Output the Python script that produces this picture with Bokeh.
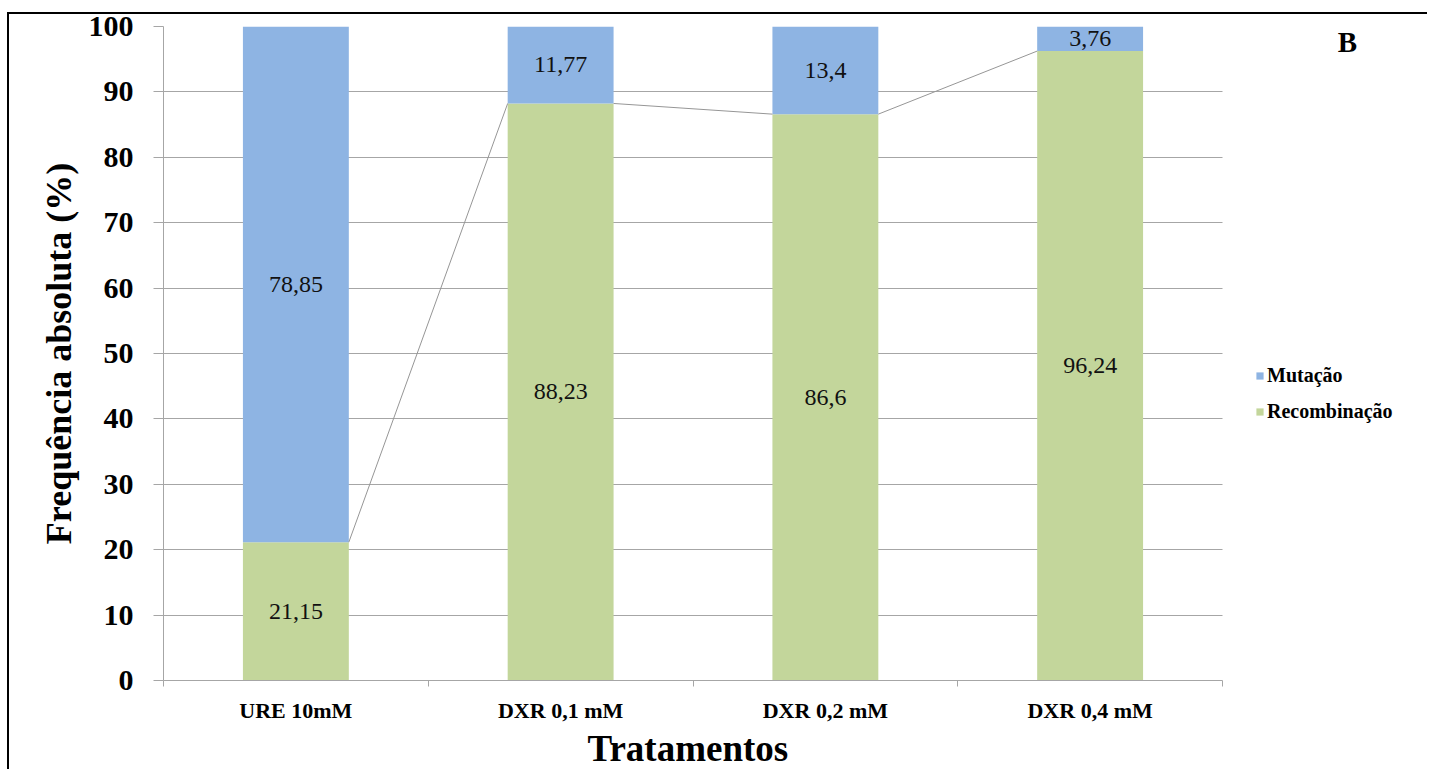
from bokeh.plotting import figure
from bokeh.models import (Range1d, FixedTicker, ColumnDataSource, LabelSet,
                          Legend, LegendItem, Label, Title)
from bokeh.embed import file_html
from bokeh.resources import INLINE

# Treatments and the share (%) of each event type
tratamentos = ["URE 10mM", "DXR 0,1 mM", "DXR 0,2 mM", "DXR 0,4 mM"]
recombinacao = [21.15, 88.23, 86.6, 96.24]
mutacao = [78.85, 11.77, 13.4, 3.76]
y_ticks = [0, 10, 20, 30, 40, 50, 60, 70, 80, 90, 100]

BLUE = "#8EB4E3"
GREEN = "#C3D69B"
GRID = "#A6A6A6"
SERIF = "Liberation Serif"
BAR_W = 0.4

# The frame runs to the right edge so the legend and panel letter can sit
# beside the bars; the axis and grid are bounded to the category span.
FRAME_W = 1266
PLOT_W = 1059
N = len(tratamentos)
X_END = N * FRAME_W / PLOT_W


def fmt(v):
    return f"{v:g}".replace(".", ",")


xs = [i + 0.5 for i in range(N)]
src = ColumnDataSource(dict(
    x=xs,
    rec=recombinacao,
    mut=mutacao,
    rec_mid=[r / 2 for r in recombinacao],
    mut_mid=[r + m / 2 for r, m in zip(recombinacao, mutacao)],
    rec_txt=[fmt(v) for v in recombinacao],
    mut_txt=[fmt(v) for v in mutacao],
))

p = figure(width=1420, height=757, output_backend="svg", toolbar_location=None,
           x_range=Range1d(0, X_END), y_range=Range1d(0, 100),
           min_border_left=154, min_border_right=0, min_border_top=12,
           min_border_bottom=91)
p.margin = (12, 0, 0, 7)
p.styles = {"border-left": "2px solid black", "border-top": "2px solid black"}
p.outline_line_color = None
p.background_fill_color = "white"
p.border_fill_color = "white"

rs = p.vbar_stack(["rec", "mut"], x="x", width=BAR_W, color=[GREEN, BLUE],
                  source=src, line_color=None)

# Series line joining the tops of the Recombinação segments
seg = ColumnDataSource(dict(
    x0=[x + BAR_W / 2 for x in xs[:-1]],
    y0=recombinacao[:-1],
    x1=[x - BAR_W / 2 for x in xs[1:]],
    y1=recombinacao[1:],
))
p.segment(x0="x0", y0="y0", x1="x1", y1="y1", source=seg,
          line_color="#969696", line_width=1)

for ycol, tcol in (("rec_mid", "rec_txt"), ("mut_mid", "mut_txt")):
    p.add_layout(LabelSet(x="x", y=ycol, text=tcol, source=src,
                          text_align="center", text_baseline="middle",
                          text_font=SERIF, text_font_size="24px",
                          text_color="#111111"))

# Axes
p.xgrid.visible = False
p.ygrid.grid_line_color = GRID
p.ygrid.ticker = FixedTicker(ticks=y_ticks)
p.ygrid.cross_bounds = (0, N)

p.yaxis.ticker = FixedTicker(ticks=y_ticks)
p.yaxis.axis_line_color = GRID
p.yaxis.major_tick_line_color = GRID
p.yaxis.major_tick_out = 10
p.yaxis.major_tick_in = 0
p.yaxis.minor_tick_line_color = None
p.yaxis.major_label_text_font = SERIF
p.yaxis.major_label_text_font_style = "bold"
p.yaxis.major_label_text_font_size = "30px"
p.yaxis.major_label_text_color = "black"
p.yaxis.major_label_standoff = 20
p.yaxis.axis_label = "Frequência absoluta (%)"
p.yaxis.axis_label_text_font = SERIF
p.yaxis.axis_label_text_font_style = "bold"
p.yaxis.axis_label_text_font_size = "36px"
p.yaxis.axis_label_text_color = "black"
p.yaxis.axis_label_standoff = 7

p.xaxis.bounds = (0, N)
p.xaxis.ticker = FixedTicker(ticks=xs, minor_ticks=list(range(N + 1)))
p.xaxis.major_label_overrides = {x: t for x, t in zip(xs, tratamentos)}
p.xaxis.axis_line_color = GRID
p.xaxis.major_tick_line_color = None
p.xaxis.major_tick_out = 0
p.xaxis.major_tick_in = 0
p.xaxis.minor_tick_line_color = GRID
p.xaxis.minor_tick_out = 6
p.xaxis.minor_tick_in = 0
p.xaxis.major_label_text_font = SERIF
p.xaxis.major_label_text_font_style = "bold"
p.xaxis.major_label_text_font_size = "22px"
p.xaxis.major_label_text_color = "black"
p.xaxis.major_label_standoff = 11

# Axis title centred under the category span rather than the whole frame
p.add_layout(Title(text="Tratamentos", align="left", offset=424,
                   text_font=SERIF, text_font_style="bold",
                   text_font_size="37px", text_color="black",
                   standoff=0), "below")

legend = Legend(items=[LegendItem(label="Mutação", renderers=[rs[1]]),
                       LegendItem(label="Recombinação", renderers=[rs[0]])],
                location=(1092, 257), orientation="vertical",
                glyph_width=9, glyph_height=9, label_standoff=3,
                label_height=20, spacing=13, padding=0, margin=0,
                border_line_color=None, background_fill_alpha=0,
                label_text_font=SERIF, label_text_font_style="bold",
                label_text_font_size="20px", label_text_color="black")
p.add_layout(legend)

p.add_layout(Label(x=4.472, y=97.6, text="B", text_font=SERIF,
                   text_font_style="bold", text_font_size="29px",
                   text_align="center", text_baseline="middle",
                   text_color="black"))

open("out.html", "w").write(file_html(p, INLINE))
